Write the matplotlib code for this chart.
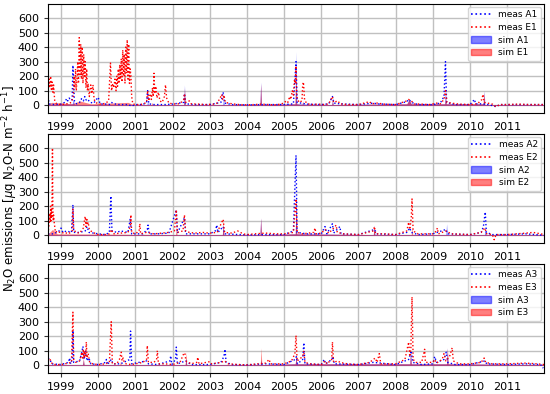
import numpy as np
from matplotlib import pyplot as plt
from matplotlib.lines import Line2D
from matplotlib.patches import Patch

# x values are decimal years, y values in ug N2O-N m-2 h-1

# ---- panel 1 ----
meas_a1_x = [1998.65, 1998.68, 1998.75, 1999.0, 1999.1, 1999.15, 1999.18, 1999.22, 1999.25, 1999.3, 1999.32, 1999.34,
             1999.36, 1999.42, 1999.5, 1999.55, 1999.6, 1999.64, 1999.68, 1999.72, 1999.78, 1999.88, 1999.95, 2000.0,
             2000.05, 2000.2, 2000.3, 2000.35, 2000.5, 2000.8, 2000.9, 2001.0, 2001.2, 2001.3, 2001.33, 2001.36, 2001.5,
             2001.8, 2002.0, 2002.3, 2002.32, 2002.35, 2002.6, 2003.0, 2003.3, 2003.36, 2003.4, 2003.6, 2004.0, 2004.5,
             2005.0, 2005.25, 2005.32, 2005.35, 2005.6, 2006.0, 2006.2, 2006.3, 2006.34, 2006.5, 2007.0, 2007.4, 2007.5,
             2008.0, 2008.3, 2008.36, 2008.42, 2008.6, 2009.0, 2009.2, 2009.3, 2009.34, 2009.37, 2009.6, 2010.0,
             2010.12, 2010.15, 2010.3, 2010.5, 2010.7, 2010.8, 2011.0, 2011.5, 2012.0]
meas_a1_y = [60, 10, 5, 8, 20, 45, 30, 50, 35, 40, 275, 150,
             30, 10, 20, 45, 30, 60, 35, 40, 20, 15, 40, 55,
             10, 8, 5, 20, 5, 5, -5, 5, 5, 20, 100, 10, 5,
             5, 8, 20, 80, 10, 5, 5, 20, 90, 15, 5, 3, 5,
             5, 10, 300, 20, 8, 5, 10, 60, 15, 10, 5, 15, 10,
             5, 25, 40, 20, 5, 5, 15, 60, 300, 20, 5, 5,
             40, 10, 10, 5, -10, 5, 5, 5, 5]
meas_e1_x = [1998.65, 1998.68, 1998.7, 1998.72, 1998.74, 1998.76, 1998.78, 1998.8, 1998.83, 1998.88, 1999.0, 1999.1,
             1999.2, 1999.28, 1999.33, 1999.35, 1999.37, 1999.39, 1999.41, 1999.43, 1999.45, 1999.47, 1999.49, 1999.51,
             1999.53, 1999.55, 1999.57, 1999.59, 1999.61, 1999.63, 1999.65, 1999.67, 1999.69, 1999.71, 1999.73,
             1999.76, 1999.8, 1999.83, 1999.86, 1999.89, 1999.93, 2000.0, 2000.1, 2000.2, 2000.28, 2000.33, 2000.36,
             2000.39, 2000.42, 2000.45, 2000.48, 2000.5, 2000.52, 2000.54, 2000.56, 2000.58, 2000.6, 2000.62, 2000.64,
             2000.66, 2000.68, 2000.7, 2000.72, 2000.74, 2000.76, 2000.78, 2000.8, 2000.82, 2000.84, 2000.86, 2000.88,
             2000.9, 2000.93, 2001.0, 2001.1, 2001.2, 2001.3, 2001.33, 2001.36, 2001.4, 2001.43, 2001.46, 2001.48,
             2001.5, 2001.52, 2001.55, 2001.58, 2001.62, 2001.66, 2001.72, 2001.78, 2001.81, 2001.84, 2001.9, 2002.0,
             2002.1, 2002.2, 2002.3, 2002.32, 2002.35, 2002.45, 2002.5, 2002.7, 2002.9, 2003.1, 2003.2, 2003.28,
             2003.32, 2003.35, 2003.38, 2003.42, 2003.6, 2003.8, 2004.0, 2004.2, 2004.4, 2004.6, 2004.8, 2005.0,
             2005.05, 2005.1, 2005.15, 2005.18, 2005.22, 2005.25, 2005.28, 2005.3, 2005.32, 2005.34, 2005.4, 2005.48,
             2005.5, 2005.52, 2005.55, 2005.6, 2005.7, 2005.9, 2006.1, 2006.2, 2006.3, 2006.33, 2006.45, 2006.5,
             2006.7, 2007.0, 2007.3, 2007.35, 2007.5, 2007.7, 2008.0, 2008.3, 2008.35, 2008.42, 2008.5, 2008.7,
             2008.9, 2009.1, 2009.2, 2009.3, 2009.34, 2009.38, 2009.5, 2009.7, 2010.0, 2010.2, 2010.32, 2010.35,
             2010.38, 2010.6, 2010.7, 2010.8, 2011.0, 2011.3, 2011.6, 2011.9, 2012.0]
meas_e1_y = [100, 180, 120, 200, 110, 160, 90, 140, 30, 10, 5, 8,
             12, 20, 60, 200, 120, 250, 100, 180, 300, 150, 465, 200,
             420, 180, 400, 150, 350, 200, 300, 120, 250, 100, 150,
             60, 140, 80, 140, 40, 20, 10, 8, 15, 30, 290, 100,
             150, 120, 180, 100, 200, 130, 250, 150, 280, 180, 320, 160,
             380, 200, 350, 150, 400, 220, 450, 180, 420, 150, 250, 200,
             60, 10, 5, 5, 8, 20, 100, 30, 80, 40, 120, 60,
             220, 80, 130, 50, 90, 30, 20, 60, 140, 50, 15, 10,
             8, 12, 40, 80, 20, 30, 10, 8, 5, 8, 15, 50,
             75, 40, 70, 20, 10, 5, 3, 5, 8, 5, 3, 15,
             30, 20, 60, 40, 100, 70, 180, 150, 270, 60, 20, 30,
             140, 160, 40, 15, 5, 8, 5, 10, 60, 20, 30, 10,
             5, 5, 25, 10, 15, 8, 5, 30, 40, 30, 10, 8,
             5, 15, 10, 40, 100, 20, 15, 8, 5, 10, 40, 75,
             20, 8, -10, 5, 5, 8, 5, 5, 5]
sim_a1_x = [1998.65, 1999.3, 1999.33, 1999.36, 2001.31, 2001.33, 2001.35, 2002.3, 2002.32, 2002.34, 2003.35, 2003.37,
            2003.39, 2004.35, 2004.37, 2004.39, 2005.3, 2005.32, 2005.34, 2006.28, 2006.3, 2006.32, 2008.3, 2008.36,
            2008.42, 2009.32, 2009.34, 2009.36, 2010.36, 2010.38, 2010.4, 2012.0]
sim_a1_y = [5, 10, 40, 5, 5, 30, 5, 5, 140, 5, 5, 50,
            5, 5, 160, 5, 10, 370, 10, 5, 40, 5, 10, 40,
            10, 10, 120, 10, 10, 100, 5, 5]
sim_e1_x = [1998.65, 1998.75, 1999.3, 1999.5, 1999.8, 2000.3, 2000.8, 2000.95, 2001.43, 2001.45, 2001.47, 2002.3,
            2002.32, 2002.34, 2004.35, 2004.37, 2004.39, 2005.29, 2005.31, 2005.33, 2005.48, 2005.5, 2005.52, 2006.28,
            2006.3, 2006.32, 2008.3, 2008.36, 2008.42, 2009.32, 2009.34, 2009.36, 2010.35, 2010.37, 2010.39, 2012.0]
sim_e1_y = [10, 20, 10, 30, 10, 15, 20, 5, 5, 20, 5, 5,
            120, 5, 5, 150, 5, 10, 200, 10, 5, 30, 5, 5,
            30, 5, 10, 35, 10, 10, 60, 10, 10, 90, 5, 5]

# ---- panel 2 ----
meas_a2_x = [1998.65, 1998.8, 1998.95, 1999.0, 1999.05, 1999.15, 1999.28, 1999.32, 1999.34, 1999.5, 1999.65, 1999.7,
             1999.75, 2000.0, 2000.2, 2000.3, 2000.34, 2000.37, 2000.5, 2000.6, 2000.7, 2000.8, 2000.86, 2000.9,
             2001.2, 2001.32, 2001.34, 2001.37, 2001.6, 2001.9, 2002.1, 2002.13, 2002.32, 2002.35, 2002.6, 2003.0,
             2003.15, 2003.19, 2003.22, 2003.36, 2003.4, 2003.8, 2004.0, 2004.5, 2005.0, 2005.25, 2005.32, 2005.35,
             2005.6, 2006.0, 2006.1, 2006.15, 2006.3, 2006.33, 2006.5, 2006.53, 2007.0, 2007.43, 2007.5, 2008.0,
             2008.3, 2008.38, 2008.42, 2008.6, 2009.0, 2009.35, 2009.4, 2010.0, 2010.3, 2010.36, 2010.41, 2010.44,
             2010.6, 2011.0, 2011.5, 2012.0]
meas_a2_y = [10, 10, 30, 50, 20, 30, 20, 210, 20, 20, 30, 60,
             20, 10, 5, 20, 270, 30, 20, 30, 25, 20, 110, 10,
             10, 40, 70, 10, 10, 15, 175, 15, 120, 10, 10, 10,
             30, 70, 20, 60, 10, 5, 3, 5, 5, 30, 550, 20,
             10, 10, 60, 10, 80, 15, 60, 10, 5, 40, 10, 5,
             20, 50, 20, 5, 10, 40, 10, 5, 20, 60, 160, 20,
             5, 5, 10, 0]
meas_e2_x = [1998.65, 1998.68, 1998.7, 1998.71, 1998.72, 1998.73, 1998.74, 1998.75, 1998.76, 1998.77, 1998.78, 1998.79,
             1998.8, 1998.82, 1998.85, 1998.9, 1999.0, 1999.1, 1999.2, 1999.3, 1999.32, 1999.34, 1999.4, 1999.5,
             1999.6, 1999.63, 1999.65, 1999.67, 1999.69, 1999.71, 1999.73, 1999.76, 1999.8, 1999.9, 2000.0, 2000.2,
             2000.3, 2000.36, 2000.4, 2000.6, 2000.8, 2000.86, 2000.88, 2000.9, 2001.0, 2001.1, 2001.12, 2001.14,
             2001.3, 2001.5, 2001.7, 2001.9, 2002.05, 2002.1, 2002.13, 2002.28, 2002.32, 2002.35, 2002.45, 2002.6,
             2002.8, 2003.0, 2003.2, 2003.36, 2003.4, 2003.6, 2003.75, 2003.9, 2004.0, 2004.2, 2004.5, 2004.8,
             2005.0, 2005.25, 2005.32, 2005.35, 2005.5, 2005.8, 2005.83, 2005.86, 2006.0, 2006.1, 2006.2, 2006.3,
             2006.4, 2006.43, 2006.6, 2007.0, 2007.4, 2007.43, 2007.46, 2007.7, 2008.0, 2008.3, 2008.35, 2008.38,
             2008.42, 2008.44, 2008.47, 2008.6, 2009.0, 2009.1, 2009.12, 2009.15, 2009.35, 2009.5, 2010.0, 2010.3,
             2010.4, 2010.45, 2010.6, 2010.65, 2010.7, 2011.0, 2011.5, 2011.7, 2012.0]
meas_e2_y = [10, 80, 150, 90, 200, 100, 180, 120, 300, 600, 200, 100,
             140, 80, 20, 30, 15, 20, 10, 30, 180, 40, 20, 15,
             50, 100, 130, 60, 120, 70, 90, 40, 30, 15, 5, 5,
             10, 40, 10, 15, 20, 60, 140, 20, 10, 30, 80, 10,
             20, 10, 15, 20, 30, 175, 20, 30, 140, 30, 20, 15,
             20, 15, 20, 110, 20, 15, 30, 10, 5, 10, 15, 10,
             10, 20, 250, 20, 10, 20, 50, 10, 15, 40, 15, 40,
             70, 20, 10, 5, 30, 60, 10, 10, 5, 30, 90, 40,
             120, 250, 30, 10, 10, 30, 50, 10, 30, 10, 5, 20,
             50, 10, 5, -30, 5, 5, 15, 20, 5]
sim_a2_x = [1998.65, 2003.34, 2003.36, 2003.38, 2004.35, 2004.37, 2004.39, 2005.3, 2005.32, 2005.34, 2007.4, 2007.42,
            2007.44, 2009.35, 2009.37, 2009.39, 2010.39, 2010.41, 2010.43, 2012.0]
sim_a2_y = [5, 5, 60, 5, 5, 120, 5, 10, 300, 10, 5, 70,
            5, 5, 80, 5, 5, 60, 5, 5]
sim_e2_x = [1998.65, 1998.77, 1998.9, 2002.08, 2002.1, 2002.12, 2003.34, 2003.36, 2003.38, 2004.35, 2004.37, 2004.39,
            2005.3, 2005.32, 2005.34, 2007.4, 2007.42, 2007.44, 2008.42, 2008.44, 2008.46, 2012.0]
sim_e2_y = [10, 40, 10, 5, 60, 5, 5, 110, 5, 5, 120, 5,
            10, 200, 10, 5, 70, 5, 5, 60, 5, 5]

# ---- panel 3 ----
meas_a3_x = [1998.65, 1998.7, 1998.75, 1999.0, 1999.2, 1999.23, 1999.26, 1999.3, 1999.32, 1999.34, 1999.5, 1999.55,
             1999.59, 1999.62, 1999.66, 1999.7, 1999.75, 1999.8, 2000.0, 2000.2, 2000.22, 2000.25, 2000.35, 2000.4,
             2000.6, 2000.85, 2000.87, 2000.9, 2001.3, 2001.35, 2001.6, 2001.93, 2001.95, 2001.98, 2002.08, 2002.1,
             2002.13, 2002.35, 2002.5, 2003.0, 2003.3, 2003.38, 2003.41, 2003.44, 2003.6, 2004.0, 2004.5, 2005.0,
             2005.3, 2005.33, 2005.36, 2005.5, 2005.53, 2005.56, 2006.0, 2006.08, 2006.12, 2006.28, 2006.31, 2006.35,
             2007.0, 2007.4, 2008.0, 2008.35, 2008.42, 2008.46, 2008.7, 2009.0, 2009.05, 2009.1, 2009.3, 2009.36,
             2009.4, 2009.6, 2010.0, 2010.4, 2010.45, 2011.0, 2011.5, 2011.9, 2011.97]
meas_a3_y = [50, 40, 10, 5, 20, 50, 10, 40, 240, 20, 30, 80,
             130, 40, 100, 30, 50, 10, 5, 20, 40, 5, 40, 10,
             10, 40, 235, 10, 30, 10, 5, 30, 65, 5, 40, 125,
             10, 30, 5, 5, 20, 60, 110, 20, 5, 3, 10, 5,
             40, 60, 10, 40, 155, 10, 5, 40, 10, 40, 60, 10,
             5, 20, 5, 40, 100, 20, 5, 10, 60, 20, 40, 90,
             20, 5, 5, 30, 10, 5, 10, 5, -20]
meas_e3_x = [1998.65, 1998.7, 1998.73, 1998.8, 1999.0, 1999.2, 1999.28, 1999.32, 1999.34, 1999.4, 1999.5, 1999.53,
             1999.56, 1999.58, 1999.6, 1999.62, 1999.64, 1999.66, 1999.68, 1999.7, 1999.73, 1999.77, 1999.85, 2000.0,
             2000.2, 2000.3, 2000.35, 2000.38, 2000.5, 2000.57, 2000.6, 2000.62, 2000.64, 2000.67, 2000.7, 2000.75,
             2000.9, 2001.0, 2001.2, 2001.3, 2001.32, 2001.35, 2001.5, 2001.57, 2001.59, 2001.62, 2001.8, 2002.0,
             2002.2, 2002.3, 2002.33, 2002.36, 2002.5, 2002.65, 2002.68, 2002.71, 2003.0, 2003.05, 2003.3, 2003.4,
             2003.5, 2003.8, 2004.0, 2004.3, 2004.5, 2004.6, 2004.63, 2005.0, 2005.2, 2005.29, 2005.32, 2005.35,
             2005.5, 2005.53, 2005.56, 2005.7, 2006.0, 2006.1, 2006.15, 2006.28, 2006.3, 2006.33, 2006.45, 2006.5,
             2006.7, 2007.0, 2007.3, 2007.45, 2007.5, 2007.56, 2007.6, 2008.0, 2008.25, 2008.3, 2008.35, 2008.38,
             2008.41, 2008.44, 2008.47, 2008.55, 2008.7, 2008.78, 2008.8, 2009.0, 2009.05, 2009.1, 2009.25, 2009.3,
             2009.35, 2009.45, 2009.52, 2009.55, 2009.7, 2010.0, 2010.3, 2010.38, 2010.42, 2010.6, 2011.0, 2011.5,
             2011.8, 2012.0]
meas_e3_y = [40, 50, 20, 5, 5, 15, 20, 365, 40, 20, 30, 60,
             90, 40, 110, 50, 100, 60, 160, 50, 80, 20, 10, 5,
             10, 20, 300, 10, 10, 40, 70, 90, 30, 50, 20, 10,
             5, 10, 20, 40, 135, 20, 20, 40, 100, 10, 10, 5,
             20, 80, 85, 30, 10, 20, 55, 10, 25, 10, 20, 30,
             10, 5, 3, 10, 15, 40, 10, 10, 30, 80, 205, 30,
             60, 100, 20, 10, 5, 30, 10, 40, 160, 20, 30, 20,
             10, 5, 20, 50, 20, 80, 10, 10, 40, 100, 160, 60,
             120, 470, 40, 20, 20, 110, 20, 20, 40, 15, 40, 80,
             30, 60, 120, 30, 10, 10, 20, 50, 20, 10, 10, 15,
             10, 5]
sim_a3_x = [1998.65, 1999.58, 1999.6, 1999.62, 2002.34, 2002.36, 2002.38, 2004.36, 2004.38, 2004.4, 2005.3, 2005.32,
            2005.34, 2008.38, 2008.4, 2008.42, 2009.37, 2009.39, 2009.41, 2012.0]
sim_a3_y = [5, 5, 40, 5, 5, 50, 5, 5, 40, 5, 10, 60,
            10, 10, 100, 10, 10, 120, 10, 5]
sim_e3_x = [1998.65, 1999.58, 1999.6, 1999.62, 2000.58, 2000.6, 2000.62, 2002.34, 2002.36, 2002.38, 2004.36, 2004.38,
            2004.4, 2005.3, 2005.32, 2005.34, 2008.38, 2008.4, 2008.42, 2009.37, 2009.39, 2009.41, 2012.0]
sim_e3_y = [5, 5, 50, 5, 5, 30, 5, 5, 90, 5, 5, 120,
            5, 10, 60, 10, 10, 100, 10, 10, 120, 10, 5]

years = list(range(1999, 2012))
y_ticks = [0, 100, 200, 300, 400, 500, 600]


def draw_panel(ax, n, meas_a, meas_e, sim_a, sim_e):
    ax.fill_between(sim_a[0], 0, sim_a[1], color="blue", alpha=0.5, lw=0)
    ax.fill_between(sim_e[0], 0, sim_e[1], color="red", alpha=0.5, lw=0)
    ax.plot(meas_a[0], meas_a[1], c="blue", ls=":", lw=1.0)
    ax.plot(meas_e[0], meas_e[1], c="red", ls=":", lw=1.0)
    ax.set_xlim(1998.65, 2011.99)
    ax.set_ylim(-53, 696)
    ax.set_xticks(years)
    ax.set_xticklabels([str(y) for y in years])
    ax.set_yticks(y_ticks)
    ax.grid(True, color="#c0c0c0", lw=1)
    ax.set_axisbelow(True)
    ax.tick_params(labelsize=8, length=3, color="#333333")
    handles = [Line2D([], [], c="blue", ls=":", lw=1.2),
               Line2D([], [], c="red", ls=":", lw=1.2),
               Patch(color="blue", alpha=0.5),
               Patch(color="red", alpha=0.5)]
    labels = ["meas A" + n, "meas E" + n, "sim A" + n, "sim E" + n]
    ax.legend(handles, labels, loc="upper right", fontsize=6.5, labelspacing=0.4,
              handlelength=2.2, borderaxespad=0.3)


def main():
    fig = plt.figure(figsize=(5.5, 3.94), dpi=100)
    left, width, height = 0.0873, 0.9018, 0.2766
    bottoms = [0.7132, 0.3832, 0.0533]
    panels = [
        ((meas_a1_x, meas_a1_y), (meas_e1_x, meas_e1_y), (sim_a1_x, sim_a1_y), (sim_e1_x, sim_e1_y)),
        ((meas_a2_x, meas_a2_y), (meas_e2_x, meas_e2_y), (sim_a2_x, sim_a2_y), (sim_e2_x, sim_e2_y)),
        ((meas_a3_x, meas_a3_y), (meas_e3_x, meas_e3_y), (sim_a3_x, sim_a3_y), (sim_e3_x, sim_e3_y)),
    ]
    for i, (b, data) in enumerate(zip(bottoms, panels)):
        ax = fig.add_axes([left, b, width, height])
        draw_panel(ax, str(i + 1), *data)

    fig.text(0.018, 0.52, r"N$_2$O emissions [$\mu$g N$_2$O-N m$^{-2}$ h$^{-1}$]",
             rotation=90, va="center", ha="center", fontsize=8.5)
    fig.savefig("out.png", dpi=100)


if __name__ == "__main__":
    main()
